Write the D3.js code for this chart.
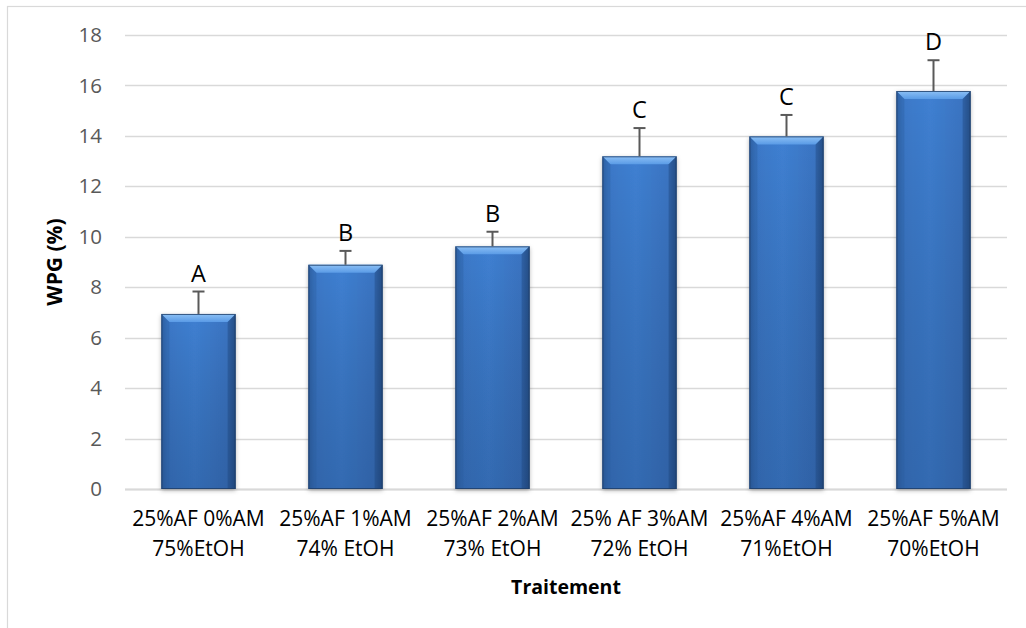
<!DOCTYPE html>
<html>
<head>
<meta charset="utf-8">
<script src="https://cdn.jsdelivr.net/npm/d3@7"></script>
<style>
  html, body { margin: 0; padding: 0; background: #fff; }
  svg { display: block; font-family: "Open Sans", "Liberation Sans", sans-serif; }
</style>
</head>
<body>
<svg id="chart" width="1026" height="628"></svg>
<script>
const categories = [
  ["25%AF 0%AM", "75%EtOH"],
  ["25%AF 1%AM", "74% EtOH"],
  ["25%AF 2%AM", "73% EtOH"],
  ["25% AF 3%AM", "72% EtOH"],
  ["25%AF 4%AM", "71%EtOH"],
  ["25%AF 5%AM", "70%EtOH"]
];
const values = [6.94, 8.89, 9.62, 13.19, 13.98, 15.78];
const errors = [0.89, 0.55, 0.58, 1.12, 0.85, 1.22];
const letters = ["A", "B", "B", "C", "C", "D"];
const yTicks = [0, 2, 4, 6, 8, 10, 12, 14, 16, 18];

const svg = d3.select("#chart");
const W = 1026, H = 628;
const plot = { left: 125, right: 1007, top: 35, bottom: 489 };

// outer chart frame
svg.append("rect")
  .attr("x", 7.5).attr("y", 6.5)
  .attr("width", W + 20).attr("height", H + 20)
  .attr("fill", "none").attr("stroke", "#d9d9d9").attr("stroke-width", 1.2);

const x = d3.scaleBand()
  .domain(d3.range(categories.length))
  .range([plot.left, plot.right])
  .paddingInner(0.495).paddingOuter(0.2475);

const y = d3.scaleLinear().domain([0, 18]).range([plot.bottom, plot.top]);

// gridlines
svg.append("g")
  .selectAll("line")
  .data(yTicks)
  .join("line")
  .attr("x1", plot.left).attr("x2", plot.right)
  .attr("y1", d => Math.round(y(d)) + 0.5).attr("y2", d => Math.round(y(d)) + 0.5)
  .attr("stroke", "#d9d9d9").attr("stroke-width", 1.5);

// y axis labels
const yAxis = d3.axisLeft(y).tickValues(yTicks).tickSize(0).tickPadding(0);
const yg = svg.append("g").attr("transform", `translate(${plot.left - 23},0)`).call(yAxis);
yg.select(".domain").remove();
yg.selectAll("text")
  .attr("font-size", 20.5).attr("fill", "#595959")
  .attr("font-family", "\"Open Sans\", sans-serif");

// defs: gradients
const defs = svg.append("defs");
const hg = defs.append("linearGradient").attr("id", "barH").attr("x1", 0).attr("x2", 1).attr("y1", 0).attr("y2", 0);
hg.append("stop").attr("offset", "0%").attr("stop-color", "#2f62a6");
hg.append("stop").attr("offset", "8%").attr("stop-color", "#3b78c8");
hg.append("stop").attr("offset", "45%").attr("stop-color", "#3f80d2");
hg.append("stop").attr("offset", "90%").attr("stop-color", "#3a74c2");
hg.append("stop").attr("offset", "100%").attr("stop-color", "#28558f");

const vg = defs.append("linearGradient").attr("id", "barV").attr("x1", 0).attr("x2", 0).attr("y1", 0).attr("y2", 1);
vg.append("stop").attr("offset", "0%").attr("stop-color", "#000").attr("stop-opacity", 0);
vg.append("stop").attr("offset", "100%").attr("stop-color", "#0a1e40").attr("stop-opacity", 0.22);

const bevel = defs.append("linearGradient").attr("id", "bevel").attr("x1", 0).attr("x2", 0).attr("y1", 0).attr("y2", 1);
bevel.append("stop").attr("offset", "0%").attr("stop-color", "#8cc0f5");
bevel.append("stop").attr("offset", "100%").attr("stop-color", "#5a9be6");

const filt = defs.append("filter").attr("id", "shadow").attr("x", "-20%").attr("y", "-5%").attr("width", "140%").attr("height", "115%");
filt.append("feDropShadow").attr("dx", 0).attr("dy", 1.5).attr("stdDeviation", 2).attr("flood-color", "#000").attr("flood-opacity", 0.3);

// x axis line
svg.append("line")
  .attr("x1", plot.left).attr("x2", plot.right)
  .attr("y1", plot.bottom + 0.5).attr("y2", plot.bottom + 0.5)
  .attr("stroke", "#d9d9d9").attr("stroke-width", 2);

// bars
const bars = svg.append("g").selectAll("g").data(values).join("g");
bars.append("rect")
  .attr("x", (d, i) => x(i)).attr("y", d => y(d))
  .attr("width", x.bandwidth()).attr("height", d => y(0) - y(d))
  .attr("fill", "url(#barH)").attr("filter", "url(#shadow)");
bars.append("rect")
  .attr("x", (d, i) => x(i)).attr("y", d => y(d))
  .attr("width", x.bandwidth()).attr("height", d => y(0) - y(d))
  .attr("fill", "url(#barV)");
// top bevel
const bv = 8;
bars.append("path")
  .attr("d", (d, i) => {
    const x0 = x(i), x1 = x(i) + x.bandwidth(), t = y(d);
    return `M${x0},${t}L${x1},${t}L${x1 - bv},${t + bv}L${x0 + bv},${t + bv}Z`;
  })
  .attr("fill", "url(#bevel)");
// side bevels (shading)
bars.append("path")
  .attr("d", (d, i) => {
    const x0 = x(i), t = y(d), b = y(0);
    return `M${x0},${t}L${x0 + bv},${t + bv}L${x0 + bv},${b}L${x0},${b}Z`;
  })
  .attr("fill", "#2c5c9c").attr("opacity", 0.35);
bars.append("path")
  .attr("d", (d, i) => {
    const x1 = x(i) + x.bandwidth(), t = y(d), b = y(0);
    return `M${x1},${t}L${x1 - bv},${t + bv}L${x1 - bv},${b}L${x1},${b}Z`;
  })
  .attr("fill", "#1e4478").attr("opacity", 0.4);
bars.append("rect")
  .attr("x", (d, i) => x(i) + 0.5).attr("y", d => y(d) + 0.5)
  .attr("width", x.bandwidth() - 1).attr("height", d => y(0) - y(d) - 1)
  .attr("fill", "none").attr("stroke", "#1f3d66").attr("stroke-width", 1).attr("opacity", 0.8);

// error bars
const eb = svg.append("g").attr("stroke", "#595959").attr("stroke-width", 2);
values.forEach((v, i) => {
  const cx = x(i) + x.bandwidth() / 2;
  eb.append("line").attr("x1", cx).attr("x2", cx).attr("y1", y(v)).attr("y2", y(v + errors[i]));
  eb.append("line").attr("x1", cx - 6).attr("x2", cx + 6).attr("y1", y(v + errors[i])).attr("y2", y(v + errors[i]));
});

// letters
svg.append("g").selectAll("text").data(letters).join("text")
  .attr("x", (d, i) => x(i) + x.bandwidth() / 2)
  .attr("y", (d, i) => y(values[i] + errors[i]) - 10)
  .attr("text-anchor", "middle")
  .attr("font-size", 23.5).attr("fill", "#000")
  .text(d => d);

// x tick labels
const xl = svg.append("g").selectAll("text").data(categories).join("text")
  .attr("x", (d, i) => x(i) + x.bandwidth() / 2)
  .attr("y", 526)
  .attr("text-anchor", "middle")
  .attr("font-size", 21).attr("fill", "#000");
xl.each(function(d) {
  const t = d3.select(this);
  d.forEach((line, k) => {
    t.append("tspan").attr("x", t.attr("x")).attr("dy", k === 0 ? 0 : 30).text(line);
  });
});

// axis titles
svg.append("text")
  .attr("x", (plot.left + plot.right) / 2).attr("y", 594)
  .attr("text-anchor", "middle").attr("font-size", 19.5).attr("font-weight", "bold")
  .attr("fill", "#000").text("Traitement");

svg.append("text")
  .attr("transform", `translate(62,${(plot.top + plot.bottom) / 2}) rotate(-90)`)
  .attr("text-anchor", "middle").attr("font-size", 21).attr("font-weight", "bold")
  .attr("fill", "#000").text("WPG (%)");
</script>
</body>
</html>
